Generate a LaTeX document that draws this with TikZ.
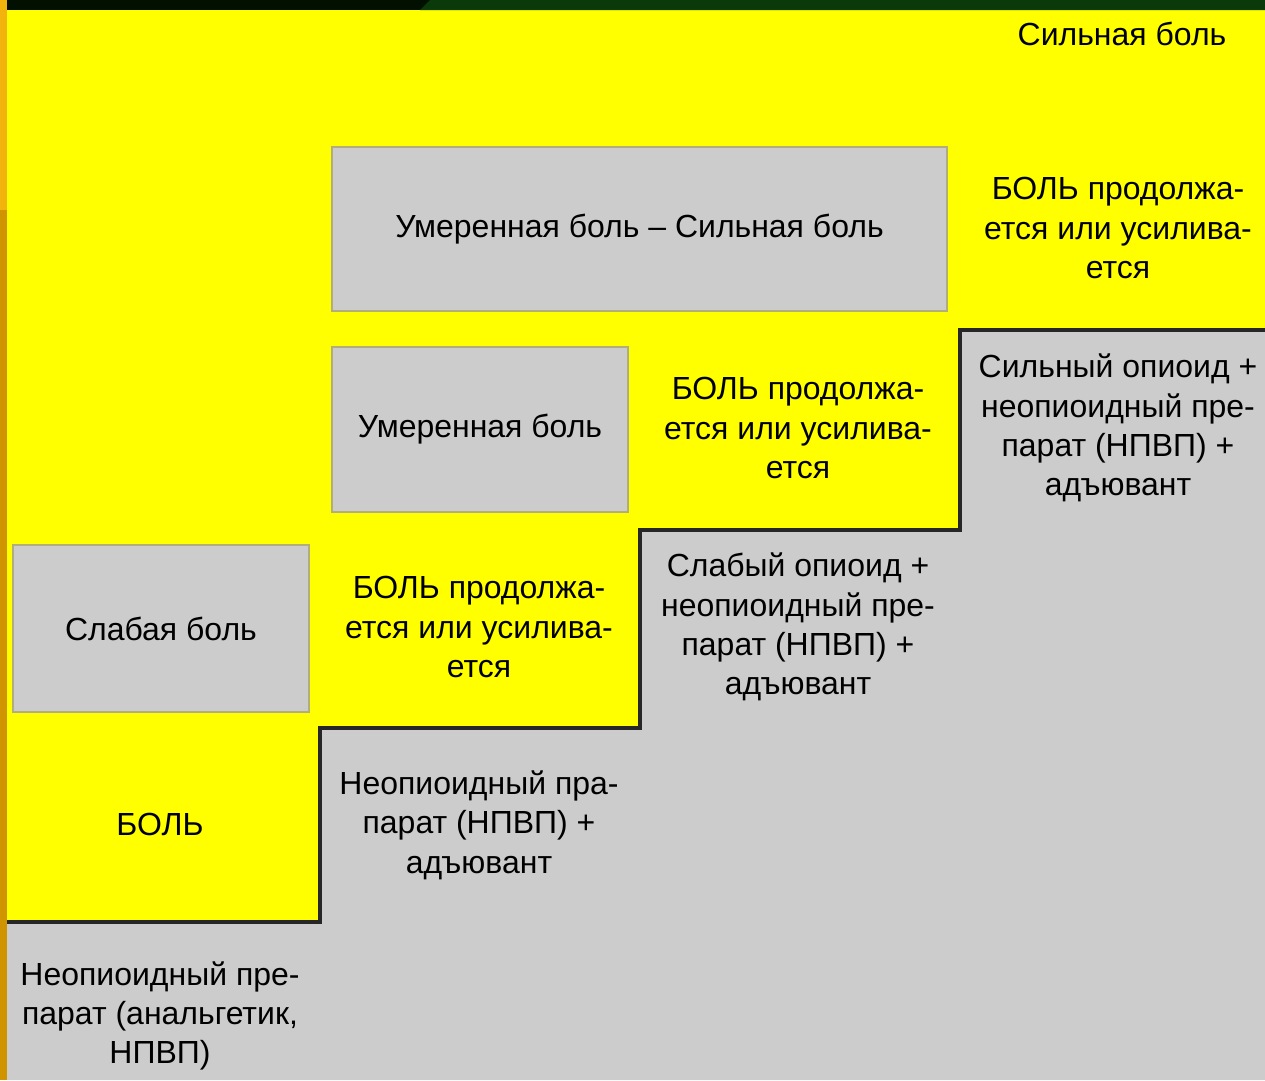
\documentclass[tikz,border=0pt]{standalone}
\usepackage{fontspec}
\setmainfont{Liberation Sans}
\definecolor{painYellow}{HTML}{FFFF00}
\definecolor{stepGray}{HTML}{CCCCCC}
\definecolor{edgeOrange}{HTML}{F2B40C}
\definecolor{edgeDark}{HTML}{D09400}
\definecolor{topDark}{HTML}{021002}
\definecolor{topGreen}{HTML}{0A3A0A}
\tikzset{
	painbox/.style={rectangle, draw=gray!70!yellow, fill=stepGray, line width=0.4pt},
	painlabel/.style={align=center, font=\fontsize{9.1}{11.2}\selectfont, text=black},
}
\begin{document}
\begin{tikzpicture}[x=0.1mm, y=-0.1mm]
		
		%Background
		\useasboundingbox (0,0) rectangle (1265,1080);
		\fill[painYellow] (0,0) rectangle (1265,1080);
		\fill[topDark] (0,0) rectangle (1265,10);
		\fill[topGreen] (430,0) -- (1265,0) -- (1265,10) -- (420,10) -- cycle;
		\fill[edgeOrange] (0,0) rectangle (7,1080);
		\fill[edgeDark] (0,210) rectangle (7,1080);
		
		%Steps
		\fill[stepGray] (7,922) -- (320,922) -- (320,728) -- (640,728) -- (640,530) -- (960,530)
		-- (960,330) -- (1265,330) -- (1265,1080) -- (7,1080) -- cycle;
		\draw[line width=0.9pt, black!85] (7,922) -- (320,922) -- (320,728) -- (640,728) -- (640,530)
		-- (960,530) -- (960,330) -- (1265,330);
		
		%Boxes
		\node (moderateSevereBox) at (639.5,229) [painbox, minimum width=61.5mm, minimum height=16.4mm]
		{\fontsize{9.1}{11.2}\selectfont Умеренная боль -- Сильная боль};
		\node (moderateBox) at (480,429.5) [painbox, minimum width=29.6mm, minimum height=16.5mm]
		{\fontsize{9.1}{11.2}\selectfont Умеренная боль};
		\node (mildBox) at (161,628.5) [painbox, minimum width=29.6mm, minimum height=16.7mm]
		{\fontsize{9.1}{11.2}\selectfont Слабая боль};
		
		%Labels
		\node (severeLabel) at (1122,34) [painlabel] {Сильная боль};
		\node (firstContinues) at (479,627) [painlabel] {БОЛЬ продолжа-\\ется или усилива-\\ется};
		\node (secondContinues) at (798,428) [painlabel] {БОЛЬ продолжа-\\ется или усилива-\\ется};
		\node (thirdContinues) at (1118,228) [painlabel] {БОЛЬ продолжа-\\ется или усилива-\\ется};
		\node (painLabel) at (160,824) [painlabel] {БОЛЬ};
		
		%Treatments
		\node (firstStep) at (160,1016) [painlabel] {Неопиоидный пре-\\парат (анальгетик,\\НПВП)};
		\node (secondStep) at (479,825) [painlabel] {Неопиоидный пра-\\парат (НПВП) +\\адъювант};
		\node (thirdStep) at (798,627) [painlabel] {Слабый опиоид +\\неопиоидный пре-\\парат (НПВП) +\\адъювант};
		\node (fourthStep) at (1118,428) [painlabel] {Сильный опиоид +\\неопиоидный пре-\\парат (НПВП) +\\адъювант};
		
\end{tikzpicture}
\end{document}
